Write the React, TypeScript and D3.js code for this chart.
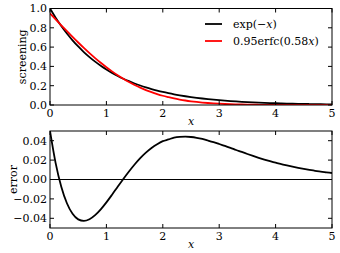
import * as d3 from 'd3'

const xValues = [
  0, 0.1, 0.2, 0.3, 0.4, 0.5, 0.6, 0.7, 0.8, 0.9,
  1, 1.1, 1.2, 1.3, 1.4, 1.5, 1.6, 1.7, 1.8, 1.9,
  2, 2.1, 2.2, 2.3, 2.4, 2.5, 2.6, 2.7, 2.8, 2.9,
  3, 3.1, 3.2, 3.3, 3.4, 3.5, 3.6, 3.7, 3.8, 3.9,
  4, 4.1, 4.2, 4.3, 4.4, 4.5, 4.6, 4.7, 4.8, 4.9, 5,
]

// exp(-x)
const expValues = [
  1.0, 0.9048, 0.8187, 0.7408, 0.6703, 0.6065, 0.5488, 0.4966, 0.4493, 0.4066,
  0.3679, 0.3329, 0.3012, 0.2725, 0.2466, 0.2231, 0.2019, 0.1827, 0.1653, 0.1496,
  0.1353, 0.1225, 0.1108, 0.1003, 0.0907, 0.0821, 0.0743, 0.0672, 0.0608, 0.055,
  0.0498, 0.045, 0.0408, 0.0369, 0.0334, 0.0302, 0.0273, 0.0247, 0.0224, 0.0202,
  0.0183, 0.0166, 0.015, 0.0136, 0.0123, 0.0111, 0.0101, 0.0091, 0.0082, 0.0074, 0.0067,
]

// 0.95 erfc(0.58x)
const erfcValues = [
  0.95, 0.8879, 0.8262, 0.7653, 0.7057, 0.6476, 0.5915, 0.5376, 0.4861, 0.4374,
  0.3915, 0.3486, 0.3087, 0.272, 0.2383, 0.2076, 0.1799, 0.155, 0.1328, 0.1132,
  0.0959, 0.0812, 0.0676, 0.0563, 0.0466, 0.0383, 0.0313, 0.0254, 0.0206, 0.0165,
  0.0132, 0.0105, 0.0082, 0.0065, 0.005, 0.0039, 0.003, 0.0023, 0.0017, 0.0013,
  0.001, 0.0007, 0.0005, 0.0004, 0.0003, 0.0002, 0.0002, 0.0001, 0.0001, 0.0001, 0.0,
]

// exp(-x) - 0.95 erfc(0.58x)
const errorValues = [
  0.05, 0.0169, -0.0075, -0.0245, -0.0354, -0.0411, -0.0427, -0.041, -0.0368, -0.0308,
  -0.0236, -0.0157, -0.0075, 0.0006, 0.0083, 0.0155, 0.022, 0.0277, 0.0325, 0.0364,
  0.0395, 0.0413, 0.0432, 0.044, 0.0442, 0.0438, 0.043, 0.0418, 0.0402, 0.0385,
  0.0366, 0.0346, 0.0326, 0.0304, 0.0284, 0.0263, 0.0243, 0.0224, 0.0206, 0.0189,
  0.0173, 0.0159, 0.0145, 0.0132, 0.012, 0.0109, 0.0099, 0.009, 0.0081, 0.0074, 0.0067,
]

const xTicks = [0, 1, 2, 3, 4, 5]
const screenTicks = [0, 0.2, 0.4, 0.6, 0.8, 1.0]
const errorTicks = [-0.04, -0.02, 0, 0.02, 0.04]

const W = 340
const H = 253
const left = 50
const right = 332
const font = 'DejaVu Serif, serif'
const tick = 4

function fmt(v: number, digits: number) {
  return v.toFixed(digits).replace('-', '\u2212')
}

function Panel({ top, bottom, yDomain, yTicks, digits, ylabel, labelX, id, children }: any) {
  const x = d3.scaleLinear().domain([0, 5]).range([left, right])
  const y = d3.scaleLinear().domain(yDomain).range([bottom, top])
  return (
    <g>
      <defs>
        <clipPath id={id}>
          <rect x={left} y={top} width={right - left} height={bottom - top} />
        </clipPath>
      </defs>
      <g clipPath={`url(#${id})`}>{children(x, y)}</g>
      <rect x={left} y={top} width={right - left} height={bottom - top} fill="none" stroke="#000" strokeWidth={1} />
      {xTicks.map(t => (
        <g key={'x' + t}>
          <line x1={x(t)} x2={x(t)} y1={bottom} y2={bottom - tick} stroke="#000" />
          <line x1={x(t)} x2={x(t)} y1={top} y2={top + tick} stroke="#000" />
          <text x={x(t)} y={bottom + 12} textAnchor="middle" fontSize={11} fontFamily={font}>{t}</text>
        </g>
      ))}
      {yTicks.map((t: number) => (
        <g key={'y' + t}>
          <line x1={left} x2={left + tick} y1={y(t)} y2={y(t)} stroke="#000" />
          <line x1={right} x2={right - tick} y1={y(t)} y2={y(t)} stroke="#000" />
          <text x={left - 3} y={y(t)} dy="0.35em" textAnchor="end" fontSize={11} fontFamily={font}>{fmt(t, digits)}</text>
        </g>
      ))}
      <text x={(left + right) / 2} y={bottom + 20} textAnchor="middle" fontSize={11} fontFamily={font} fontStyle="italic">x</text>
      <text transform={`translate(${labelX},${(top + bottom) / 2}) rotate(-90)`} textAnchor="middle" dy="0.35em" fontSize={11} fontFamily={font}>{ylabel}</text>
    </g>
  )
}

export default function App() {
  const line = (x: any, y: any, ys: number[]) =>
    d3.line<number>()
      .x((_, i) => x(xValues[i]))
      .y(d => y(d))
      .curve(d3.curveMonotoneX)(ys) as string

  return (
    <svg width={W} height={H} style={{ position: 'absolute', left: 0, top: 0, background: '#fff' }}>
      <Panel top={8.5} bottom={105} yDomain={[0, 1]} yTicks={screenTicks} digits={1} ylabel="screening" labelX={22} id="clipTop">
        {(x: any, y: any) => (
          <g fill="none" strokeWidth={1.8}>
            <path d={line(x, y, expValues)} stroke="#000" />
            <path d={line(x, y, erfcValues)} stroke="#ff0000" />
          </g>
        )}
      </Panel>
      <Panel top={131} bottom={228} yDomain={[-0.05, 0.05]} yTicks={errorTicks} digits={2} ylabel="error" labelX={13} id="clipBot">
        {(x: any, y: any) => (
          <g fill="none">
            <line x1={left} x2={right} y1={y(0)} y2={y(0)} stroke="#000" strokeWidth={1} />
            <path d={line(x, y, errorValues)} stroke="#000" strokeWidth={1.8} />
          </g>
        )}
      </Panel>
      <g fontSize={11} fontFamily={font}>
        <line x1={205} x2={222} y1={24} y2={24} stroke="#000" strokeWidth={1.8} />
        <line x1={205} x2={222} y1={41} y2={41} stroke="#ff0000" strokeWidth={1.8} />
        <text x={233} y={24} dy="0.35em">{'exp(\u2212'}<tspan fontStyle="italic">x</tspan>)</text>
        <text x={233} y={41} dy="0.35em">0.95erfc(0.58<tspan fontStyle="italic">x</tspan>)</text>
      </g>
    </svg>
  )
}
